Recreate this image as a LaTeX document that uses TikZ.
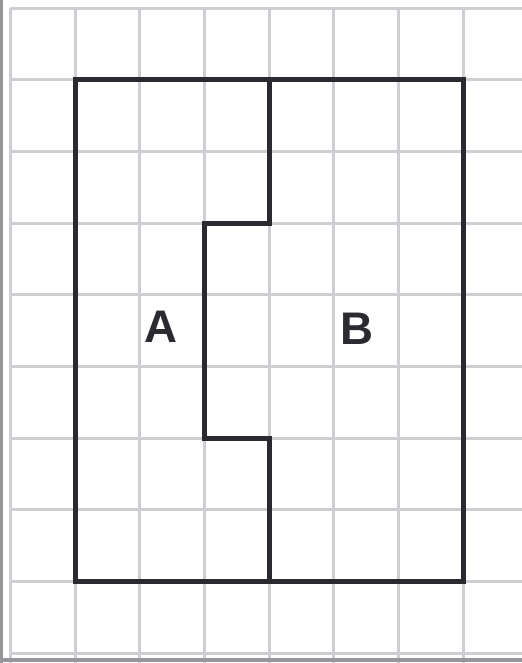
\documentclass[tikz,border=0pt]{standalone}
\usepackage{fontspec}
\setmainfont{Liberation Sans}
\usetikzlibrary{positioning}
\definecolor{gridgray}{RGB}{206,206,211}
\definecolor{edgegray}{RGB}{150,150,155}
\definecolor{inkdark}{RGB}{42,42,48}

\begin{document}
\begin{tikzpicture}[x={(0.647cm,0)}, y={(0,-0.717cm)},
  gridline/.style={line width=0.85pt, color=gridgray},
  edgeline/.style={line width=1pt, color=edgegray},
  outline/.style={line width=1.4pt, color=inkdark, line join=miter},
  letter/.style={font=\fontsize{13}{15}\selectfont\bfseries, text=inkdark}]
\useasboundingbox (-0.162,-0.112) rectangle (7.906,9.135);
% squared paper
\draw[gridline](0,0) -- (0,9.135);
\draw[gridline](1,0) -- (1,9.135);
\draw[gridline](2,0) -- (2,9.135);
\draw[gridline](3,0) -- (3,9.135);
\draw[gridline](4,0) -- (4,9.135);
\draw[gridline](5,0) -- (5,9.135);
\draw[gridline](6,0) -- (6,9.135);
\draw[gridline](7,0) -- (7,9.135);
\draw[gridline](0,0) -- (7.906,0);
\draw[gridline](0,1) -- (7.906,1);
\draw[gridline](0,2) -- (7.906,2);
\draw[gridline](0,3) -- (7.906,3);
\draw[gridline](0,4) -- (7.906,4);
\draw[gridline](0,5) -- (7.906,5);
\draw[gridline](0,6) -- (7.906,6);
\draw[gridline](0,7) -- (7.906,7);
\draw[gridline](0,8) -- (7.906,8);
\draw[gridline](0,9) -- (7.906,9);
% scan edges
\draw[edgeline](-0.14,-0.112) -- (-0.14,9.135);
\draw[edgeline](-0.162,9.09) -- (7.906,9.09);
% the rectangle
\draw[outline](1,1) -- (7,1) -- (7,8) -- (1,8) -- cycle;
% dividing line
\draw[outline](4,1) -- (4,3) -- (3,3) -- (3,6) -- (4,6) -- (4,8);
\node[letter] (partA) at (2.33,4.45) {A};
\node[letter] (partB) at (5.36,4.47) {B};
\end{tikzpicture}
\end{document}
